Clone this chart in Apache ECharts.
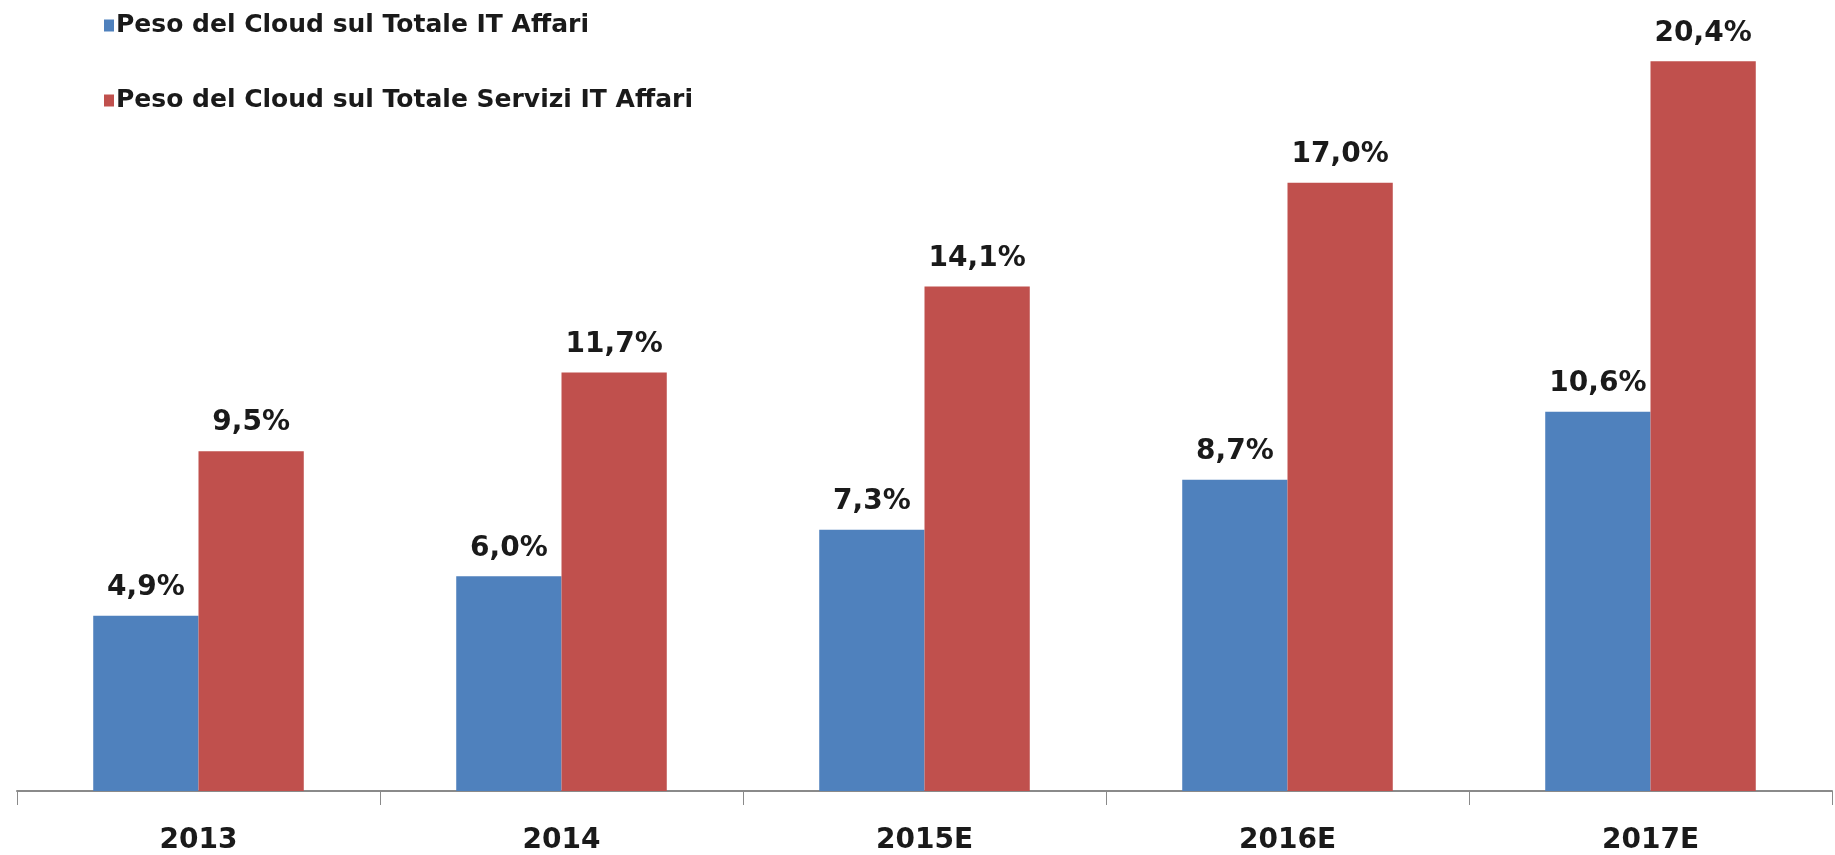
<!DOCTYPE html>
<html>
<head>
<meta charset="utf-8">
<title>Peso del Cloud</title>
<script src="https://cdn.jsdelivr.net/npm/echarts@6/dist/echarts.min.js"></script>
<style>
  html, body { margin: 0; padding: 0; background: #fff; }
  #chart { width: 1835px; height: 855px; }
</style>
</head>
<body>
<div id="chart"></div>
<script>
// data
const years = ['2013', '2014', '2015E', '2016E', '2017E']
const cloudOnIT = [4.9, 6.0, 7.3, 8.7, 10.6]
const cloudOnServices = [9.5, 11.7, 14.1, 17.0, 20.4]
const seriesNames = [
  'Peso del Cloud sul Totale IT Affari',
  'Peso del Cloud sul Totale Servizi IT Affari',
]

const FONT = 'DejaVu Sans'

const myChart = echarts.init(document.getElementById('chart'), null, {
  width: 1835,
  height: 855,
})

const label = {
  show: true,
  position: 'top',
  distance: 14,
  color: '#1a1a1a',
  fontFamily: FONT,
  fontWeight: 'bold',
  fontSize: 28,
  formatter: (p) => p.value.toFixed(1).replace('.', ',') + '%',
}

const option = {
  backgroundColor: '#fff',
  animation: false,
  legend: {
    orient: 'vertical',
    left: 99,
    top: 8,
    itemGap: 50,
    itemWidth: 10,
    itemHeight: 12,
    icon: 'rect',
    textStyle: {
      fontFamily: FONT,
      fontWeight: 'bold',
      fontSize: 25,
      color: '#1a1a1a',
      padding: [0, 0, 0, -3],
    },
  },
  grid: {
    left: 17,
    right: 3,
    top: 4,
    bottom: 63,
  },
  xAxis: {
    type: 'category',
    data: years,
    axisLine: { lineStyle: { color: '#8a8a8a', width: 2 } },
    axisTick: { show: true, length: 14, lineStyle: { color: '#8a8a8a', width: 1 } },
    axisLabel: {
      margin: 36,
      color: '#1a1a1a',
      fontFamily: FONT,
      fontWeight: 'bold',
      fontSize: 28,
    },
  },
  yAxis: {
    type: 'value',
    min: 0,
    max: 22,
    show: false,
    splitLine: { show: false },
  },
  series: [
    {
      name: seriesNames[0],
      type: 'bar',
      data: cloudOnIT,
      barGap: '0%',
      barCategoryGap: '42%',
      itemStyle: { color: '#4F81BD' },
      label: label,
    },
    {
      name: seriesNames[1],
      type: 'bar',
      data: cloudOnServices,
      itemStyle: { color: '#C0504D' },
      label: label,
    },
  ],
}

option && myChart.setOption(option)
</script>
</body>
</html>
